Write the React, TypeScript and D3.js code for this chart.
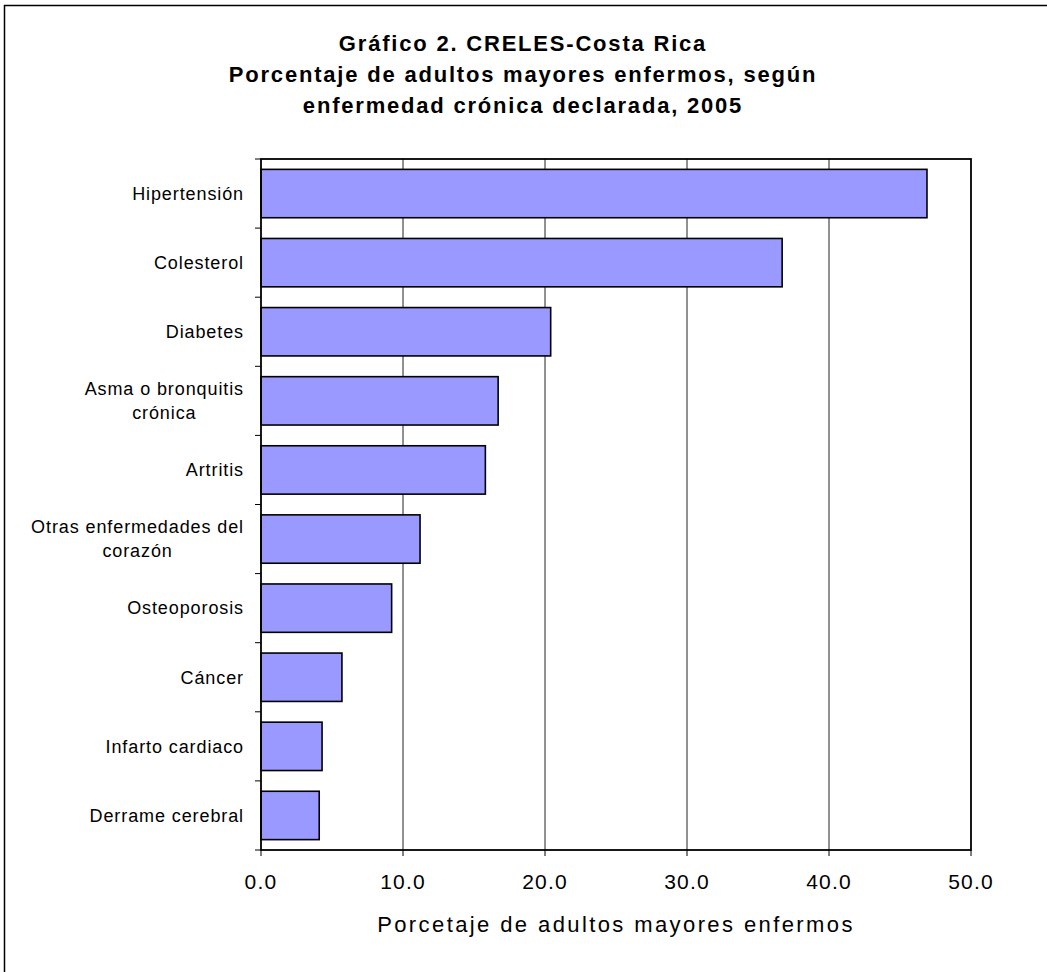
import React from "react";
import * as d3 from "d3";

const categories: string[][] = [
  ["Hipertensión"],
  ["Colesterol"],
  ["Diabetes"],
  ["Asma o bronquitis", "crónica"],
  ["Artritis"],
  ["Otras enfermedades del", "corazón"],
  ["Osteoporosis"],
  ["Cáncer"],
  ["Infarto cardiaco"],
  ["Derrame cerebral"],
];
const values: number[] = [46.9, 36.7, 20.4, 16.7, 15.8, 11.2, 9.2, 5.7, 4.3, 4.1];
const xTicks: number[] = [0, 10, 20, 30, 40, 50];
const titleLines: string[] = [
  "Gráfico 2. CRELES-Costa Rica",
  "Porcentaje de adultos mayores enfermos, según",
  "enfermedad crónica declarada, 2005",
];
const xAxisTitle = "Porcetaje de adultos mayores enfermos";

const W = 1047;
const H = 972;
const plot = { left: 261, top: 159, right: 971, bottom: 850 };
const FONT = "'Liberation Sans', Arial, sans-serif";
const labelSize = 18;
const labelSpacing = 0.9;

let ctx: CanvasRenderingContext2D | null = null;
function measure(text: string, size: number, ls: number): number {
  if (!ctx) ctx = document.createElement("canvas").getContext("2d");
  if (!ctx) return text.length * (size * 0.5 + ls);
  ctx.font = `${size}px 'Liberation Sans', Arial, sans-serif`;
  return ctx.measureText(text).width + text.length * ls;
}

export default function App() {
  const x = d3.scaleLinear().domain([0, 50]).range([plot.left, plot.right]);
  const keys = categories.map((c) => c.join(" "));
  const y = d3
    .scaleBand<string>()
    .domain(keys)
    .range([plot.top, plot.bottom])
    .paddingInner(0.3)
    .paddingOuter(0.15);
  const step = y.step();
  const boundaries = d3.range(categories.length + 1).map((i) => plot.top + i * step);
  const labelRight = 244;

  return (
    <svg
      width={W}
      height={H}
      style={{ position: "absolute", left: 0, top: 0, background: "#fff" }}
      fontFamily={FONT}
    >
      <rect x={4.5} y={5.5} width={1200} height={1200} fill="#fff" stroke="#000" strokeWidth={1.5} />
      {titleLines.map((t, i) => (
        <text
          key={i}
          x={523}
          y={51 + i * 31}
          textAnchor="middle"
          fontWeight="bold"
          fontSize={22}
          letterSpacing={1.8}
          fill="#000"
        >
          {t}
        </text>
      ))}
      {/* gridlines */}
      {xTicks.slice(1, -1).map((t) => (
        <line key={t} x1={x(t)} x2={x(t)} y1={plot.top} y2={plot.bottom} stroke="#222" strokeWidth={1} />
      ))}
      {/* bars */}
      {values.map((v, i) => (
        <rect
          key={i}
          x={x(0)}
          y={y(keys[i])!}
          width={x(v) - x(0)}
          height={y.bandwidth()}
          fill="#9999FF"
          stroke="#000"
          strokeWidth={1.6}
        />
      ))}
      {/* plot border */}
      <rect
        x={plot.left}
        y={plot.top}
        width={plot.right - plot.left}
        height={plot.bottom - plot.top}
        fill="none"
        stroke="#000"
        strokeWidth={1.8}
      />
      {/* y ticks */}
      {boundaries.map((b, i) => (
        <line key={i} x1={plot.left - 6} x2={plot.left} y1={b} y2={b} stroke="#000" strokeWidth={1} />
      ))}
      {/* x ticks */}
      {xTicks.map((t) => (
        <g key={t}>
          <line x1={x(t)} x2={x(t)} y1={plot.bottom} y2={plot.bottom + 6} stroke="#000" strokeWidth={1} />
          <text x={x(t)} y={889} textAnchor="middle" fontSize={21} letterSpacing={1.2} fill="#000">
            {d3.format(".1f")(t)}
          </text>
        </g>
      ))}
      {/* category labels */}
      {categories.map((lines, i) => {
        const cy = y(keys[i])! + y.bandwidth() / 2;
        const lh = 24;
        const maxW = Math.max(...lines.map((l) => measure(l, labelSize, labelSpacing)));
        const cx = labelRight - maxW / 2;
        const y0 = cy - ((lines.length - 1) * lh) / 2 + labelSize * 0.35;
        return lines.map((l, j) => (
          <text
            key={`${i}-${j}`}
            x={lines.length > 1 ? cx : labelRight}
            y={y0 + j * lh}
            textAnchor={lines.length > 1 ? "middle" : "end"}
            fontSize={labelSize}
            letterSpacing={labelSpacing}
            fill="#000"
          >
            {l}
          </text>
        ));
      })}
      <text
        x={(plot.left + plot.right) / 2}
        y={932}
        textAnchor="middle"
        fontSize={22}
        letterSpacing={2.4}
        fill="#000"
      >
        {xAxisTitle}
      </text>
    </svg>
  );
}
